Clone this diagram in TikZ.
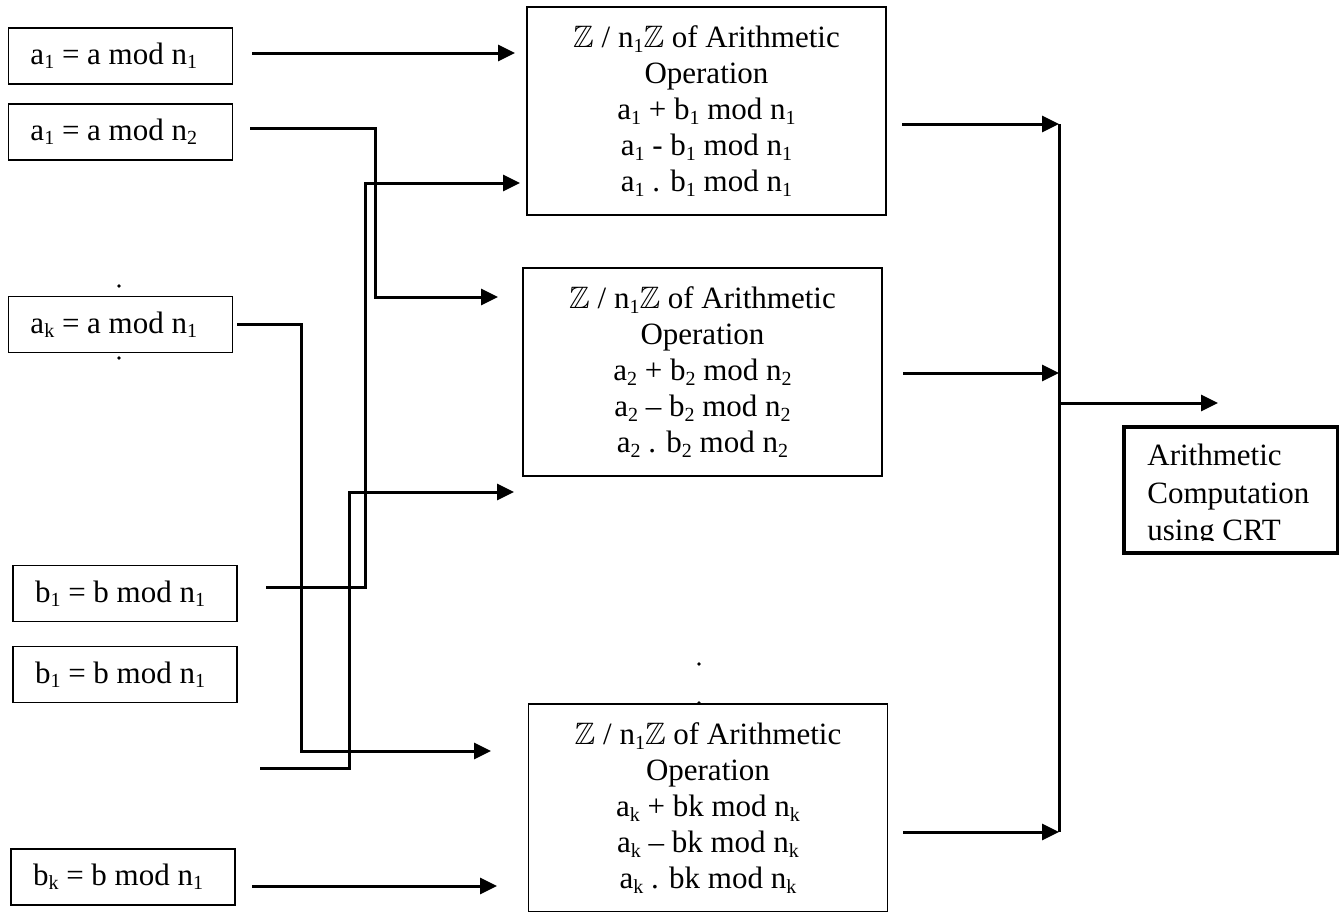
\documentclass[tikz,border=0pt]{standalone}
\usepackage{fontspec}
\usepackage{amssymb}
\setmainfont{Liberation Serif}
\usetikzlibrary{arrows.meta}

\newcommand{\sbs}[1]{\raisebox{-2.2pt}{\fontsize{10}{10}\selectfont #1}}
\newcommand{\ZZ}{$\mathbb{Z}$}
\newcommand{\lbl}[1]{\makebox[90pt][l]{#1}}

\tikzset{
  txt/.style={font=\fontsize{15.5}{18}\selectfont},
  inbox/.style={txt, draw, line width=0.8pt, inner xsep=11pt, minimum height=28pt},
  opbox/.style={txt, draw, line width=0.8pt, minimum width=179.5pt,
    minimum height=104pt, align=center},
  crtbox/.style={draw, line width=1.6pt, minimum width=107pt, minimum height=63pt},
  wire/.style={line width=1.5pt},
  arr/.style={wire, -{Triangle[length=8.5pt,width=8pt]}},
}

\begin{document}
\begin{tikzpicture}[x=0.5pt, y=-0.5pt]
    \useasboundingbox (0,0) rectangle (1339,911);
    \clip (0,0) rectangle (1339,911);

    % Residues of a and b
    \node[inbox] (a1) at (120.5,56) {\lbl{a\sbs{1} = a mod n\sbs{1}}};
    \node[inbox] (a2) at (120.5,132) {\lbl{a\sbs{1} = a mod n\sbs{2}}};
    \node[inbox] (ak) at (120.5,324.5) {\lbl{a\sbs{k} = a mod n\sbs{1}}};
    \node[inbox] (b1) at (125,593.5) {\lbl{b\sbs{1} = b mod n\sbs{1}}};
    \node[inbox] (b2) at (125,674.5) {\lbl{b\sbs{1} = b mod n\sbs{1}}};
    \node[inbox] (bk) at (123,877) {\lbl{b\sbs{k} = b mod n\sbs{1}}};

    % Dots
    \fill (119,286) circle (0.9pt);
    \fill (119,358) circle (0.9pt);
    \fill (699,664) circle (0.9pt);
    \fill (699,703) circle (0.9pt);

    % Arithmetic in each ring
    \node[opbox] (m1) at (706.5,111) {\ZZ{} / n\sbs{1}\ZZ{} of Arithmetic\\Operation\\
        a\sbs{1} + b\sbs{1} mod n\sbs{1}\\a\sbs{1} - b\sbs{1} mod n\sbs{1}\\
        a\sbs{1} . b\sbs{1} mod n\sbs{1}};
    \node[opbox] (m2) at (702.5,372) {\ZZ{} / n\sbs{1}\ZZ{} of Arithmetic\\Operation\\
        a\sbs{2} + b\sbs{2} mod n\sbs{2}\\a\sbs{2} -- b\sbs{2} mod n\sbs{2}\\
        a\sbs{2} . b\sbs{2} mod n\sbs{2}};
    \node[opbox] (mk) at (708,808) {\ZZ{} / n\sbs{1}\ZZ{} of Arithmetic\\Operation\\
        a\sbs{k} + bk mod n\sbs{k}\\a\sbs{k} -- bk mod n\sbs{k}\\
        a\sbs{k} . bk mod n\sbs{k}};

    % CRT box
    \node[crtbox] (crt) at (1231,490) {};
    \begin{scope}
        \clip (1124,427) rectangle (1338,540);
        \node[anchor=north west, inner sep=0pt, align=left,
            font=\fontsize{15.5}{18.75}\selectfont] (crttext) at (1147,444)
            {Arithmetic\\Computation\\using CRT};
    \end{scope}

    % Wire ends
    \coordinate (a1o) at (252,53);
    \coordinate (a2o) at (250,128);
    \coordinate (ako) at (237,324);
    \coordinate (b1o) at (266,587);
    \coordinate (b2o) at (260,768);
    \coordinate (bko) at (252,886);
    \coordinate (m1a) at (515,53);
    \coordinate (m1b) at (520,183);
    \coordinate (m2a) at (498,297);
    \coordinate (m2b) at (514,492);
    \coordinate (mka) at (491,751);
    \coordinate (mkb) at (497,886);

    % Inputs
    \draw[arr] (a1o) -- (m1a);
    \draw[arr] (a2o) -- (375,128) |- (m2a);
    \draw[arr] (ako) -- (301,324) |- (mka);
    \draw[arr] (b1o) -- (365,587) |- (m1b);
    \draw[arr] (b2o) -- (349,768) |- (m2b);
    \draw[arr] (bko) -- (mkb);

    % Outputs
    \coordinate (bustop) at (1059,124);
    \coordinate (busbot) at (1059,832);
    \coordinate (out) at (1218,403);
    \draw[arr] (902,124) -- (bustop);
    \draw[arr] (903,373) -- (1059,373);
    \draw[arr] (903,832) -- (busbot);
    \draw[wire] (bustop) -- (busbot);
    \draw[arr] (1059,403) -- (out);
\end{tikzpicture}
\end{document}
